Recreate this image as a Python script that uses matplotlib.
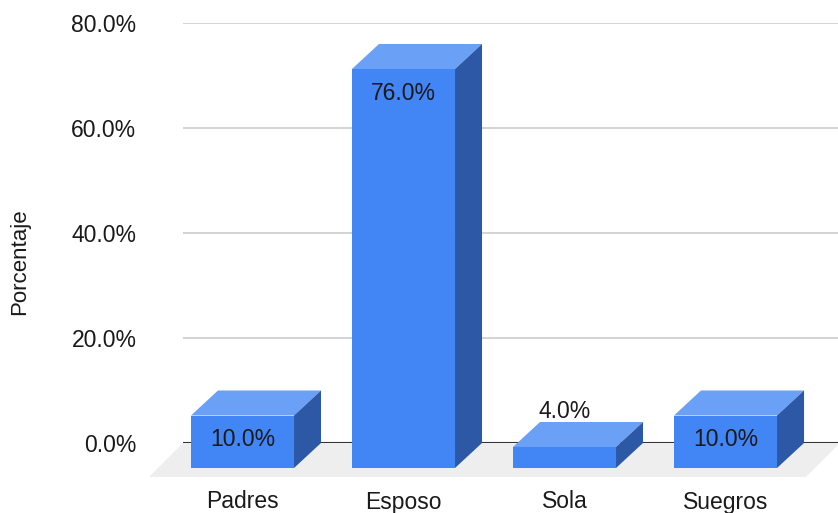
import matplotlib
matplotlib.use("Agg")
import matplotlib.pyplot as plt
from matplotlib.patches import Polygon

categories = ["Padres", "Esposo", "Sola", "Suegros"]
values = [10.0, 76.0, 4.0, 10.0]
yticks = [0, 20, 40, 60, 80]
ytick_labels = ["0.0%", "20.0%", "40.0%", "60.0%", "80.0%"]

W, H = 838, 513
fig = plt.figure(figsize=(W / 100, H / 100), dpi=100)
plt.rcParams['font.family'] = ['Liberation Sans', 'DejaVu Sans']

# axes covering back plane: x pixels 183..838, y 0% at 443, 80% at 23
ax = fig.add_axes([183 / W, (H - 443) / H, 655 / W, 420 / H])
px_y = 420 / 80.0          # pixels per percent
px_x = 161.0               # pixels per category
x0 = -86.5 / px_x
ax.set_xlim(x0, x0 + 655 / px_x)
ax.set_ylim(0, 80)
for s in ax.spines.values():
    s.set_visible(False)
ax.set_xticks([])
ax.set_yticks(yticks)
ax.set_yticklabels(ytick_labels, fontsize=16.5, color="#1a1a1a")
ax.tick_params(axis="y", length=0, pad=33.5)

front_c = "#4285f4"
top_c = "#6aa0f6"
side_c = "#2c58a6"

# floor
fd_y = 34 / px_y
fd_x = 34 / px_x
xr = x0 + 657 / px_x
floor = Polygon([(x0, 0), (xr, 0), (xr - fd_x, -fd_y), (x0 - fd_x, -fd_y)],
                closed=True, facecolor="#eeeeee", edgecolor="none",
                zorder=0, clip_on=False)
ax.add_patch(floor)

# gridlines
for t in yticks[1:]:
    ax.axhline(t, color="#cccccc", lw=1.2, zorder=1)
ax.axhline(0, color="#333333", lw=1.5, zorder=1.5)

w = 0.32
dx = 27 / px_x
dy = 25 / px_y
for i, v in enumerate(values):
    fl, fr = i - dx - w, i - dx + w
    front = Polygon([(fl, -dy), (fr, -dy), (fr, v - dy), (fl, v - dy)],
                    closed=True, facecolor=front_c, edgecolor="none",
                    zorder=3, clip_on=False)
    top = Polygon([(fl, v - dy), (fr, v - dy), (i + w, v), (i - w, v)],
                  closed=True, facecolor=top_c, edgecolor="none",
                  zorder=3, clip_on=False)
    side = Polygon([(fr, -dy), (i + w, 0), (i + w, v), (fr, v - dy)],
                   closed=True, facecolor=side_c, edgecolor="none",
                   zorder=3, clip_on=False)
    for p in (front, top, side):
        ax.add_patch(p)
    cx = i - dx
    if v * px_y > 30:
        ly = v - dy - 24 / px_y
    else:
        ly = v + 10 / px_y
    ax.text(cx, ly, f"{v:.1f}%", ha="center", va="center", fontsize=16.5,
            color="#1a1a1a", zorder=5, clip_on=False)
    ax.text(cx, -(502 - 443) / px_y, categories[i], ha="center", va="center",
            fontsize=16.5, color="#1a1a1a", clip_on=False)

fig.text(20 / W, 1 - 262 / H, "Porcentaje", rotation=90, ha="center",
         va="center", fontsize=16, color="#1a1a1a")

fig.savefig("out.png", dpi=100)
